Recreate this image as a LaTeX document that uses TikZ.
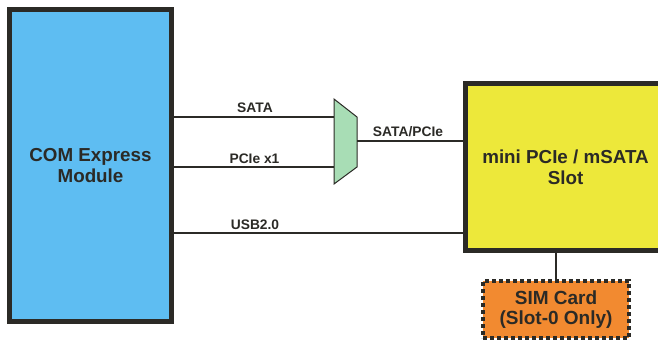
\documentclass[tikz,border=0pt]{standalone}
\usepackage{fontspec}
\setmainfont{Liberation Sans}
\definecolor{comblue}{HTML}{5EBDF2}
\definecolor{slotyellow}{HTML}{EDE83A}
\definecolor{muxgreen}{HTML}{A8DDB5}
\definecolor{simorange}{HTML}{F28A30}
\definecolor{edge}{HTML}{2B2A26}
\tikzset{
  bigbox/.style={draw=edge, line width=5pt, rectangle, inner sep=0pt, align=center,
    font=\fontsize{18.8}{21}\selectfont\bfseries, text=edge},
  wire/.style={draw=edge, line width=1.7pt},
  lbl/.style={anchor=base, inner sep=0pt, font=\fontsize{13.8}{16}\selectfont\bfseries, text=edge},
}
\begin{document}
\begin{tikzpicture}[x=1pt,y=-1pt]
\useasboundingbox (0,0) rectangle (658,343);
\begin{scope}
\clip (0,0) rectangle (658,343);
\node[bigbox, fill=comblue, minimum width=162pt, minimum height=312pt] (com) at (90.5,165.5) {COM Express\\Module};
\node[bigbox, fill=slotyellow, minimum width=200pt, minimum height=167pt] (slot) at (565.5,167) {mini PCIe / mSATA\\Slot};
\node[draw=edge, line width=4pt, dash pattern=on 4pt off 3pt, fill=simorange, rectangle,
  minimum width=146pt, minimum height=57pt, inner sep=0pt, align=center,
  font=\fontsize{19}{20.5}\selectfont\bfseries, text=edge] (sim) at (556,309.5) {SIM Card\\(Slot-0 Only)};
\end{scope}
% multiplexer
\coordinate (m1) at (334,99);
\coordinate (m2) at (357,117);
\coordinate (m3) at (357,167);
\coordinate (m4) at (334,184);
\draw[draw=edge, line width=1pt, fill=muxgreen] (m1) -- (m2) -- (m3) -- (m4) -- cycle;
\coordinate (muxsata) at (334,116.7);
\coordinate (muxpcie) at (334,167.3);
\coordinate (muxout) at (357,141);
% connectors
\draw[wire] (com.east |- muxsata) -- (muxsata);
\draw[wire] (com.east |- muxpcie) -- (muxpcie);
\draw[wire] (muxout) -- (slot.west |- muxout);
\coordinate (usb) at (300,233);
\draw[wire] (com.east |- usb) -- (slot.west |- usb);
\draw[wire] (slot.south -| sim.north) -- (sim.north);
% labels
\node[lbl] (lsata) at (255,112.7) {SATA};
\node[lbl] (lpcie) at (254.5,163.3) {PCIe x1};
\node[lbl] (lusb) at (255,229.3) {USB2.0};
\node[lbl] (lsp) at (408,136.5) {SATA/PCIe};
\end{tikzpicture}
\end{document}
